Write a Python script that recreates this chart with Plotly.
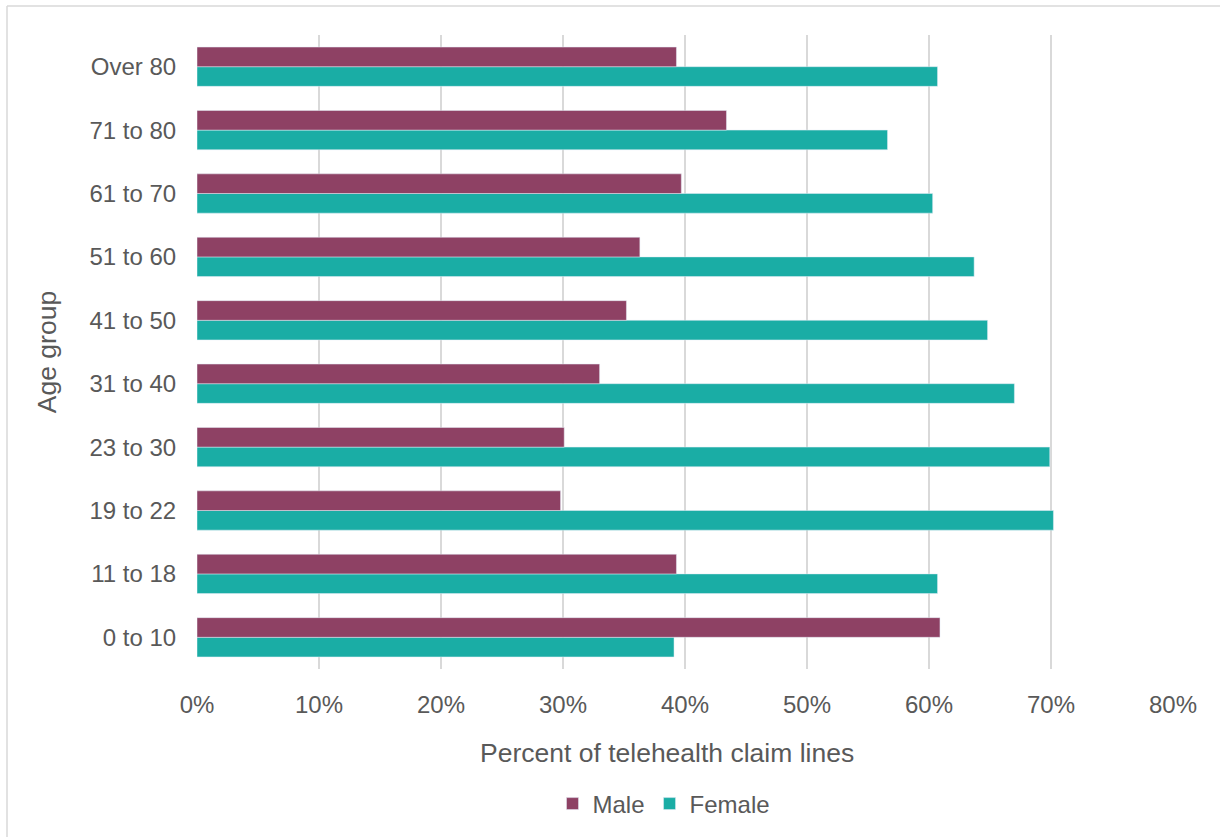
import plotly.graph_objects as go

age_groups = ["0 to 10", "11 to 18", "19 to 22", "23 to 30", "31 to 40",
              "41 to 50", "51 to 60", "61 to 70", "71 to 80", "Over 80"]
male = [0.609, 0.393, 0.298, 0.301, 0.330, 0.352, 0.363, 0.397, 0.434, 0.393]
female = [0.391, 0.607, 0.702, 0.699, 0.670, 0.648, 0.637, 0.603, 0.566, 0.607]
x_ticks = [0, 0.1, 0.2, 0.3, 0.4, 0.5, 0.6, 0.7, 0.8]
x_tick_labels = ["0%", "10%", "20%", "30%", "40%", "50%", "60%", "70%", "80%"]

MALE_C = "#8E4164"
FEMALE_C = "#1AADA5"
TXT = "#595959"
FONT = "Liberation Sans, Arial, sans-serif"

fig = go.Figure()
fig.add_trace(go.Bar(y=age_groups, x=female, name="Female", orientation="h",
                     marker=dict(color=FEMALE_C), legendrank=2))
fig.add_trace(go.Bar(y=age_groups, x=male, name="Male", orientation="h",
                     marker=dict(color=MALE_C), legendrank=1))

L, R, T, B = 197, 47, 35, 167
W, H = 1220, 837
pw, ph = W - L - R, H - T - B

def px_x(p):
    return (p - L) / pw

def px_y(p):
    return (H - B - p) / ph

fig.update_layout(
    width=W, height=H,
    margin=dict(l=L, r=R, t=T, b=B),
    paper_bgcolor="white", plot_bgcolor="white",
    barmode="group", bargap=0.38, bargroupgap=0,
    font=dict(family=FONT, color=TXT, size=24),
    showlegend=True,
    legend=dict(orientation="h", x=px_x(664), xanchor="center",
                y=px_y(804), yanchor="middle",
                font=dict(size=24, color=TXT), bgcolor="rgba(0,0,0,0)"),
    xaxis=dict(range=[0, 0.8], tickvals=x_ticks, ticktext=x_tick_labels,
               showgrid=True, gridcolor="#D9D9D9", gridwidth=1.5,
               zeroline=False, showline=False,
               ticks="outside", ticklen=14, tickcolor="rgba(0,0,0,0)",
               tickfont=dict(size=24, color=TXT)),
    yaxis=dict(categoryorder="array", categoryarray=age_groups,
               showgrid=False, zeroline=False, showline=False,
               ticks="outside", ticklen=15, tickcolor="rgba(0,0,0,0)",
               tickfont=dict(size=24, color=TXT),
               title=dict(text="Age group", font=dict(size=26.5, color=TXT), standoff=25)),
    annotations=[dict(text="Percent of telehealth claim lines", xref="paper", yref="paper",
                      x=px_x(667), y=px_y(754), xanchor="center", yanchor="middle",
                      showarrow=False, font=dict(size=26.5, color=TXT))],
    shapes=[
        dict(type="line", xref="paper", yref="paper", x0=px_x(7), x1=px_x(1225),
             y0=px_y(6), y1=px_y(6), line=dict(color="#D9D9D9", width=1.5)),
        dict(type="line", xref="paper", yref="paper", x0=px_x(7), x1=px_x(7),
             y0=px_y(6), y1=px_y(845), line=dict(color="#D9D9D9", width=1.5)),
    ],
)

fig.write_html("out.html")
